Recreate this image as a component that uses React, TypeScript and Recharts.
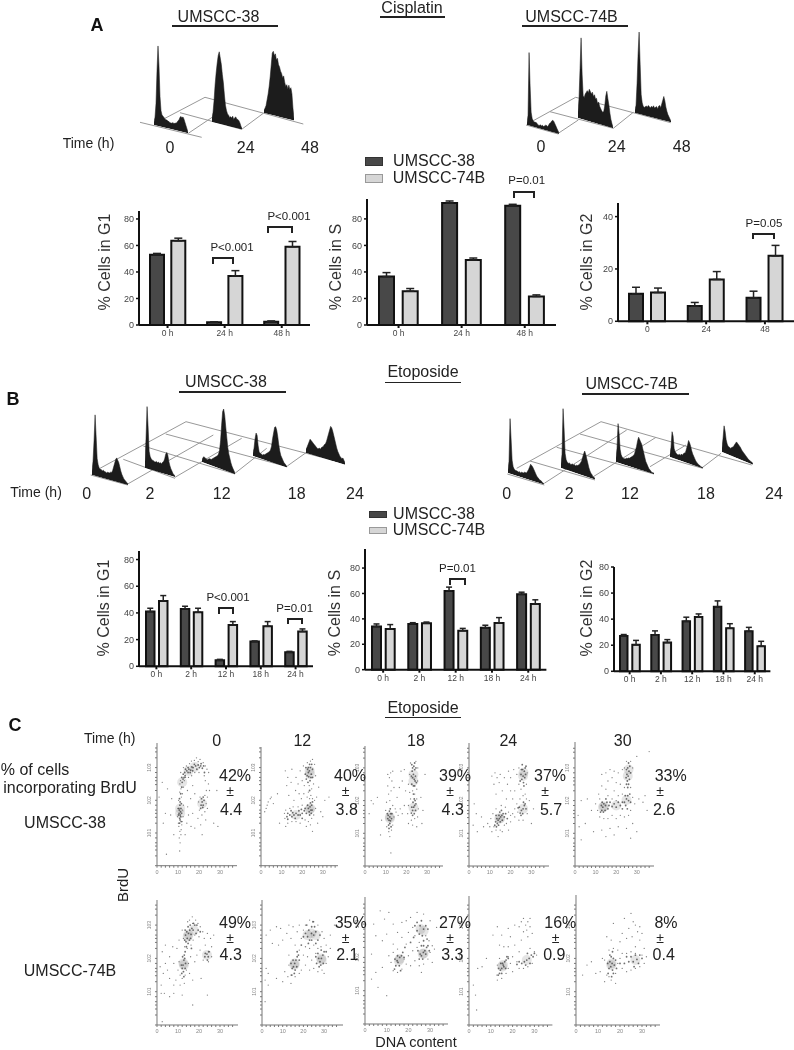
import React from 'react'
import {
  Area,
  AreaChart,
  Bar,
  BarChart,
  ErrorBar,
  Line,
  LineChart,
  Scatter,
  ScatterChart,
  XAxis,
  YAxis,
} from 'recharts'

const FONT = '"Liberation Sans", Arial, sans-serif'
const DARK = '#484848'
const LIGHT = '#d6d6d6'
const INK = '#222'

// ---- bar chart values ----
const hoursA = ['0 h', '24 h', '48 h']
const hoursG2A = ['0', '24', '48']
const hoursB = ['0 h', '2 h', '12 h', '18 h', '24 h']

const g1A38 = [53, 2, 2.5]
const g1A38Err = [1, 0.4, 0.6]
const g1A74 = [63.5, 37, 59]
const g1A74Err = [2, 4, 4]
const sA38 = [36.5, 92, 90]
const sA38Err = [3, 1.5, 1]
const sA74 = [25.5, 49, 21.5]
const sA74Err = [2, 1.5, 1.2]
const g2A38 = [10.5, 5.8, 9]
const g2A38Err = [2.5, 1.4, 2.5]
const g2A74 = [11, 16, 25]
const g2A74Err = [1.7, 3, 4]

const g1B38 = [41, 43, 4.5, 18.5, 10.5]
const g1B38Err = [2.5, 2, 0.7, 0.5, 0.7]
const g1B74 = [49, 40.5, 31, 30, 26]
const g1B74Err = [4, 3, 2.5, 3.5, 2]
const sB38 = [34, 36, 62, 33, 59.3]
const sB38Err = [2, 1, 3, 2, 1.7]
const sB74 = [32, 36.5, 30.7, 36.7, 51.7]
const sB74Err = [3.5, 1, 1.8, 4.3, 3.3]
const g2B38 = [27, 27.8, 38.3, 49.5, 30.7]
const g2B38Err = [1.2, 3.2, 3.2, 4.5, 3]
const g2B74 = [20.3, 22, 41.7, 33, 19.3]
const g2B74Err = [3.4, 2.3, 2.3, 3.5, 3.7]

// ---- DNA histograms (peak heights along each trace) ----
const histA38 = [
  [3, 8, 22, 55, 80, 60, 30, 16, 12, 11, 10, 9, 8, 8, 7, 7, 6, 6, 6, 7, 6, 7, 7, 8, 10, 11, 14, 15, 14, 15, 13, 10, 7, 4, 1],
  [4, 10, 22, 38, 50, 60, 68, 72, 66, 60, 50, 42, 30, 20, 15, 12, 11, 9, 10, 9, 11, 8, 10, 11, 9, 9, 8, 6, 3, 1],
  [3, 5, 8, 14, 20, 28, 38, 50, 62, 64, 60, 62, 56, 58, 52, 50, 46, 44, 40, 42, 36, 32, 34, 30, 34, 30, 32, 26, 12, 2],
]
const histA74 = [
  [2, 10, 73, 40, 14, 8, 6, 5, 5, 5, 4, 3, 3, 4, 3, 4, 3, 4, 5, 5, 4, 6, 8, 9, 11, 12, 11, 9, 7, 5, 3, 1],
  [6, 20, 50, 81, 45, 24, 22, 26, 28, 30, 28, 32, 30, 28, 30, 26, 28, 24, 25, 20, 22, 18, 16, 14, 13, 14, 20, 30, 35, 28, 22, 14, 8, 4, 1],
  [3, 8, 30, 60, 82, 50, 20, 12, 9, 8, 9, 10, 9, 11, 10, 9, 11, 10, 12, 10, 11, 12, 10, 13, 14, 12, 16, 20, 24, 20, 14, 10, 7, 5, 3, 1],
]
const histB38 = [
  [4, 14, 35, 61, 40, 18, 12, 9, 8, 8, 7, 8, 7, 7, 6, 7, 7, 7, 8, 8, 10, 14, 18, 22, 24, 22, 20, 16, 12, 9, 7, 5, 4, 3, 2, 1],
  [6, 30, 62, 42, 18, 13, 11, 10, 10, 9, 9, 10, 9, 10, 9, 10, 9, 11, 12, 15, 20, 22, 20, 14, 10, 7, 5, 3, 2, 1],
  [2, 5, 6, 5, 5, 4, 5, 6, 6, 6, 7, 8, 9, 10, 11, 12, 14, 18, 28, 44, 58, 61, 55, 44, 34, 24, 18, 14, 10, 7, 5, 3, 1],
  [3, 8, 18, 24, 22, 12, 6, 5, 5, 4, 5, 5, 6, 7, 8, 9, 10, 12, 16, 24, 30, 36, 37, 34, 28, 20, 14, 10, 8, 6, 4, 3, 2, 1],
  [4, 6, 9, 12, 15, 14, 13, 12, 11, 10, 9, 8, 8, 9, 8, 10, 11, 12, 14, 15, 18, 22, 26, 30, 34, 33, 30, 26, 22, 18, 14, 11, 9, 7, 6, 5, 6, 4, 2],
]
const histB74 = [
  [3, 12, 55, 35, 14, 8, 6, 5, 5, 5, 4, 5, 4, 5, 5, 5, 6, 6, 6, 8, 10, 13, 16, 15, 14, 12, 10, 8, 6, 5, 4, 3, 3, 2, 1, 1],
  [4, 14, 60, 40, 16, 10, 8, 7, 8, 7, 7, 8, 7, 8, 7, 8, 8, 9, 10, 12, 14, 18, 22, 25, 22, 18, 14, 10, 7, 5, 4, 2, 2, 1],
  [4, 14, 39, 30, 14, 9, 7, 6, 6, 6, 7, 7, 8, 8, 9, 10, 11, 12, 14, 18, 22, 28, 32, 30, 28, 26, 22, 18, 14, 10, 8, 6, 4, 3, 2, 1, 1, 1],
  [3, 10, 26, 22, 10, 7, 6, 5, 5, 6, 5, 7, 6, 8, 9, 10, 14, 18, 23, 21, 18, 14, 11, 9, 7, 5, 4, 3, 2, 2, 1, 1, 1],
  [4, 14, 27, 22, 14, 10, 8, 8, 7, 8, 9, 10, 12, 14, 16, 15, 14, 13, 12, 10, 9, 8, 7, 6, 5, 4, 3, 3, 2, 2, 1],
]

// left, base y at left, width, base slope for each trace
const histBoxes: [number[][], number[][]][] = [
  [histA38, [[154, 125, 34, 0.24], [211.7, 121.7, 30, 0.25], [264, 113.3, 30, 0.25]]],
  [histA74, [[526.7, 125, 32, 0.28], [578.3, 118.3, 35, 0.29], [635, 113.3, 36, 0.26]]],
  [histB38, [[91.7, 475, 36, 0.28], [145, 468.3, 30, 0.3], [202.3, 461.7, 33, 0.37], [253.3, 455.7, 34, 0.34], [306, 452.7, 39, 0.3]]],
  [histB74, [[508.3, 473.3, 36, 0.32], [561, 468.3, 34, 0.34], [616, 461.7, 38, 0.32], [670, 456.7, 33, 0.35], [721.7, 452.3, 31, 0.41]]],
]

// floor grid behind the histograms, in page pixels
const floorLines = [
  [205, 97.3, 303.3, 124], [180, 112.7, 241.7, 129.3], [140, 122.3, 201.7, 137.3],
  [165, 118.3, 205, 97.3], [188.3, 133.3, 226, 108], [241.7, 129.3, 263.3, 113.3],
  [575.7, 97.3, 670.7, 122.7], [550, 111.7, 613.3, 128.3], [526, 125, 558.3, 134],
  [533.3, 120.7, 575.7, 97.3], [558.3, 133.3, 578.3, 120], [613.3, 128.3, 633.3, 112.3],
  [186, 421.7, 344.3, 463.3], [165.7, 434, 287.3, 466.7], [143.3, 446, 235, 474],
  [123.3, 459.3, 175, 478.3], [90.7, 475, 127.7, 485], [100, 468.3, 186, 421.7],
  [127.7, 484, 213.3, 435], [175, 477.3, 241.7, 438.3], [235, 473.3, 266.7, 448.3],
  [287.3, 466, 306, 452.7],
  [601, 421.7, 751.7, 465], [580, 434, 702.7, 468.3], [556.7, 447.3, 654, 474],
  [530, 461, 595, 480], [507.3, 474, 544.3, 485], [516.7, 468.3, 601, 421.7],
  [544.3, 483.3, 626.7, 430], [593.3, 476.7, 656, 437.3], [650, 466.7, 686, 445],
  [702.7, 467.3, 721, 453.3],
]

// ---- BrdU / DNA dot plots: [DNA content, log10 BrdU] ----
type Pt = number[]
const core38h0: Pt[] = [[10.6,1.7],[11,1.55],[10.8,1.45],[11.2,1.65],[10.9,1.85],[11.3,1.5],[10.5,1.6],[11,1.4],[11.4,1.75],[11,1.95],[12,2.55],[11.8,2.7],[12.5,2.8],[13.2,2.85],[14.2,2.9],[15.2,2.95],[16,2.92],[17.2,3],[18.4,3.05],[19.6,3.08],[20.8,3.05],[21.6,2.98],[14.8,2.85],[16.6,3.02],[21.5,1.95],[22,1.85],[21,1.85],[22.4,2],[10.2,1.55],[11.7,1.6],[10.7,1.3],[11.5,1.35],[10.4,1.75],[11.6,1.9],[10.7,2.05],[11.3,2.2],[11.8,2.4],[12.4,2.65],[13.6,2.95],[12.9,2.7],[14.8,3],[15.8,2.85],[17,2.9],[17.8,3.1],[19,2.95],[20.2,3],[21,3.12],[22.2,3.05],[22.6,2.85],[13.4,2.75],[21.2,2.05],[20.8,1.75],[22,2.1],[21.8,1.78]]
const dust38h0: Pt[] = [[10.8,.45],[11,.7],[10.6,.85],[11.4,.95],[10.9,1.05],[11.5,1.1],[10.4,1.2],[11.8,1.25],[10.2,1.3],[12,1.35],[9.8,1.5],[12.4,1.5],[12.1,1.7],[9.9,1.75],[12.6,1.85],[10.3,2],[11.6,2.1],[12.1,2.2],[10.8,2.25],[11.4,2.35],[12.6,2.4],[10.9,2.5],[11.2,2.6],[13,2.6],[13.6,2.7],[11.3,2.85],[12.6,3],[14,3.05],[15.5,3.12],[16.4,3.2],[17.8,3.22],[18.8,3.3],[19.6,3.18],[20.5,3.25],[22,3.15],[23,3.05],[23.8,2.95],[24.6,2.85],[22.5,2.75],[20,2.85],[18,2.85],[16.5,2.75],[15,2.7],[23,2.6],[24.5,2.5],[25,2.3],[23.5,2.3],[22.8,2.15],[24,2.1],[20.5,2.1],[19.8,1.95],[23.4,1.9],[24,1.75],[20.2,1.7],[22.8,1.65],[21.4,1.55],[19.5,1.45],[23.2,1.4],[20.8,1.25],[17,1.6],[15,1.55],[14.2,1.3],[16.2,1.2],[18,1.15],[21.5,.95],[13.4,.95],[14.6,1.8],[16,2.05],[18,2.2],[17,2.45],[14.5,2.3],[1,2.1],[2.5,2.55],[4,1.6],[5,2.35],[3,1.3],[6.5,1.55],[7,2.05],[4.5,.35],[8,.95],[27,1.3],[28.5,2.3],[29,1.2]]
const halo38h0: Pt[] = [[11,1.6],[11,1.75],[15,2.9],[18,3.02],[21.5,1.9],[12,2.55]]
const core38h12: Pt[] = [[23.5,2.9],[24,3],[23,2.85],[24.4,2.8],[22.6,2.95],[24.2,2.7],[23.2,2.72],[25,2.95],[21.5,2.8],[22,2.65],[23.8,1.8],[24.2,1.7],[23.4,1.65],[24.6,1.85],[23,1.75],[24,1.92],[22,1.6],[20,1.6],[18,1.55],[16,1.55],[14,1.55],[12.6,1.5],[13,1.6],[15,1.5],[17,1.6],[19,1.55],[21,1.68],[24.6,3.1],[22.4,2.75],[23.6,3.1],[23,3],[25,2.7],[21.8,3],[23.8,2.6],[22.8,2.55],[24.8,1.7],[24.4,1.6],[22.6,1.85],[25,1.95],[23.6,1.55],[21.4,1.75],[20,1.45],[18.4,1.68],[16.6,1.45],[14.6,1.68],[13,1.42],[15.4,1.62],[19.6,1.72],[23.6,2.3]]
const dust38h12: Pt[] = [[24,3.2],[25,3.25],[22.5,3.15],[26,3.1],[20.6,3.05],[26.5,2.75],[20,2.6],[21,2.45],[25.5,2.5],[23.4,2.45],[24.6,2.35],[23,2.25],[24.2,2.15],[25,2.05],[23.6,2.05],[22.4,2.1],[26,2],[26.5,1.75],[25.6,1.55],[24.6,1.45],[23,1.35],[21.4,1.4],[24,1.25],[22,1.2],[25,1.05],[19,1.3],[17,1.35],[15,1.35],[13,1.3],[12,1.2],[11.6,1.45],[11.4,1.6],[12,1.7],[14,1.75],[15.6,1.8],[18,1.8],[20,1.85],[16,2],[13.5,2.15],[14.6,2.55],[13,2.7],[12.5,2.45],[11.8,2.9],[15,2.95],[17,2.7],[16.8,2.3],[18,2.5],[19,2.9],[18.5,2.2],[20.8,2.2],[19.6,2.05],[3,1.85],[3.5,1.95],[2.5,1.75],[4.5,2.05],[5,2.1],[6,1.9],[1.8,1.65],[8,2.2],[9,1.3],[27.5,1.3],[28,2.4],[27,2.1],[31,2],[33,2.1],[29,1.65],[30,1.5]]
const halo38h12: Pt[] = [[23.6,2.9],[23.8,2.8],[24,1.75],[23.6,1.72],[17,1.55]]
const core38h18: Pt[] = [[12,1.5],[11.6,1.4],[12.4,1.6],[11.2,1.55],[12.8,1.45],[12,1.3],[11.8,1.68],[12.3,1.38],[11,1.45],[23.5,1.8],[23,1.7],[24,1.85],[23.2,1.95],[24.4,1.7],[22.6,1.8],[23.8,1.6],[23.4,2.8],[24,2.95],[23,2.7],[24.2,2.6],[22.8,2.9],[23.6,3.05],[22.6,2.5],[24.4,2.75],[23.4,2.45],[12.6,1.2],[11.4,1.25],[13,1.6],[10.8,1.6],[12.2,1.75],[11.6,1.15],[24.6,1.9],[22.4,1.62],[24.2,2],[23,1.55],[22.4,2.75],[24.6,3],[24,2.45],[23,3],[24.8,2.55],[23.8,2.65],[22.6,3.1],[24,3.15],[23.4,2.2],[23.8,2.05]]
const dust38h18: Pt[] = [[24.6,3.2],[22,3.15],[25.5,3],[21.6,2.8],[25.4,2.6],[21,2.5],[25,2.35],[23,2.3],[21.6,2.25],[24,2.2],[22,2.05],[25,2.05],[21,1.85],[20.6,1.6],[25.8,1.75],[25.4,1.5],[24,1.45],[22.4,1.4],[23,1.25],[21,1.3],[25,1.2],[12,.9],[11.5,1.05],[12.8,1.1],[10.5,1.2],[13.4,1.25],[14,1.5],[15,1.65],[16,1.55],[14.6,1.75],[13.4,1.85],[10,1.7],[10.4,1.95],[12,2],[11.4,2.2],[12.6,2.3],[11,2.45],[13,2.6],[11.8,2.7],[12.4,2.85],[13.4,2.9],[11,2.8],[14,2.4],[15.5,2.1],[17,1.75],[18,1.6],[19,1.85],[16.6,2.4],[18,2.6],[19,2.95],[17.4,2.9],[19.6,2.3],[3,2],[4,1.9],[2,1.6],[6,2.1],[12.5,.4],[27,2.1],[28,1.7],[29,2.8],[27.5,1.3],[8,1.4],[7.5,.95]]
const halo38h18: Pt[] = [[12,1.5],[12,1.45],[23.4,1.78],[23.4,2.8],[23.4,2.6]]
const core38h24: Pt[] = [[14.6,1.45],[14,1.4],[15.2,1.5],[13.6,1.3],[15.8,1.55],[14.4,1.55],[13.4,1.45],[16.4,1.6],[15,1.35],[12.8,1.35],[17,1.5],[26,1.75],[25.2,1.7],[26.6,1.85],[24.6,1.62],[27,1.9],[25.8,1.6],[26,2.75],[26.6,2.9],[25.4,2.65],[26.8,2.7],[25.8,2.95],[25,2.8],[27,3],[26.2,2.55],[13,1.55],[16,1.4],[14.8,1.65],[12.4,1.25],[17.6,1.6],[18.4,1.45],[13.2,1.2],[15.6,1.7],[14.2,1.25],[27.4,1.75],[26.2,1.95],[24.2,1.8],[23.6,1.78],[25,1.55],[27.2,2.8],[25.2,2.95],[26.4,2.45],[24.6,2.6],[25.6,3.1],[27.4,3.05]]
const dust38h24: Pt[] = [[24,3],[23,2.8],[28,2.85],[27.6,2.5],[24,2.5],[25,2.35],[27,2.2],[26,2.15],[27.6,2.05],[24.5,2.05],[23,1.9],[22,1.75],[23.5,1.65],[21,1.6],[20,1.55],[19,1.65],[22,1.5],[24,1.4],[26,1.4],[28,1.6],[20,1.35],[18,1.3],[17,1.25],[15,1.1],[13,1.1],[12,1.2],[11,1.05],[10,1.2],[16,1.05],[19,1.1],[14,.9],[17.5,1.8],[15.5,1.85],[13,1.75],[11.5,1.6],[10.5,1.45],[9,1.3],[7,1.2],[4,1.05],[2,1.25],[3.5,1.6],[2.5,1.9],[6,1.5],[18,2.05],[16,2.3],[13,2.2],[12,2.5],[13.5,2.7],[12.5,2.85],[15,2.8],[14.5,2.55],[17,2.7],[18.5,2.5],[20,2.3],[21,2.05],[22,2.3],[20,2.7],[19,2.9],[21.5,2.95],[11,2.75],[29,2],[31,1.75],[30,1.3]]
const halo38h24: Pt[] = [[14.6,1.45],[15,1.45],[26,1.75],[26,2.75],[26.2,2.85]]
const core38h30: Pt[] = [[13.5,1.8],[14,1.9],[13,1.7],[14.8,1.85],[12.8,1.85],[15.5,1.95],[13.8,1.65],[16.5,1.85],[18,1.82],[20,1.8],[22,1.85],[24,1.95],[25,2.05],[26,2],[24.6,1.85],[23,1.95],[25.6,2.15],[25.6,2.4],[25.4,2.6],[25.8,2.75],[25.2,2.8],[26.2,2.9],[26.6,3.05],[25.6,3],[26.4,2.65],[12.4,1.65],[14.6,1.7],[15,2.05],[17,1.95],[19,1.9],[21,1.95],[23,1.75],[25.4,1.75],[26.6,2.2],[27,1.95],[24.4,2.15],[25,2.5],[26,2.5],[25,2.95],[26,3.15],[27,2.85],[24.8,2.7],[13.2,1.95],[16,1.75]]
const dust38h30: Pt[] = [[27,3.2],[25,3.2],[28,3],[24,3],[23,2.95],[21,2.85],[19,2.9],[17,2.95],[15,2.85],[13,2.8],[16,2.6],[18,2.7],[20,2.55],[22,2.5],[24,2.4],[27,2.4],[19,2.3],[15,2.35],[13,2.45],[11.5,2.2],[12,2.05],[16,2.15],[21,2.15],[23,2.2],[18,2.05],[20,2],[28,2.1],[29,1.9],[31,2.05],[33,1.95],[35,1.7],[34,2.15],[27,1.7],[26,1.55],[24,1.5],[22,1.55],[20,1.45],[18,1.55],[16,1.45],[14,1.45],[12,1.5],[11,1.7],[10,1.9],[8,1.7],[6,2.05],[3,2],[1.5,1.55],[2,1.2],[5,1.3],[9,1.05],[13,1.1],[17,1.15],[21,1.2],[25,1.15],[28,1.3],[30,1.05],[19,.95],[27,.85],[15,.9],[3,.8],[36,3.5],[30,3.35]]
const halo38h30: Pt[] = [[13.6,1.8],[14,1.82],[25,2.02],[25.6,2.75],[26,2.95],[20,1.85]]
const core74h0: Pt[] = [[15,2.75],[14.4,2.6],[15.6,2.85],[13.8,2.5],[14.2,2.8],[16.2,2.72],[15.4,2.55],[13.6,2.7],[16.6,2.9],[14.8,2.95],[12.4,1.8],[12.8,1.95],[12,1.7],[13,2.1],[12.6,1.6],[13.2,2],[11.6,1.8],[23.8,2.13],[24.4,2.05],[23,2.15],[18,3],[19.6,2.85],[15.8,3],[13.2,2.55],[14,2.35],[16,2.6],[14.8,2.45],[17.2,2.85],[13.4,2.85],[17.4,3.05],[13.4,2.2],[12.2,2.05],[13.6,1.85],[12.8,1.45],[11.8,1.55],[13.4,1.7],[19,3],[18.6,2.75],[20.6,2.8],[22.8,2.05],[24.6,2.2],[24,1.95],[16.4,2.3]]
const dust74h0: Pt[] = [[17,3.05],[18.4,3.15],[15.5,3.15],[16.8,3.25],[14.6,3.1],[19.5,3.05],[20.6,2.95],[21.8,2.8],[20,2.65],[18,2.7],[17.2,2.55],[16.2,2.4],[14.4,2.3],[13.2,2.35],[12.6,2.6],[12,2.85],[22.5,2.6],[24,2.75],[25.5,2.6],[27,2.7],[26,2.35],[23,2.4],[25,2.2],[26,2.05],[22,1.95],[24.5,1.9],[20.5,2.25],[19,2.1],[18,1.9],[16,2.05],[15,1.85],[14,1.65],[15.5,1.55],[13.4,1.5],[12,1.4],[11,1.5],[10.5,1.9],[10,1.65],[9,1.35],[8,1.2],[11,1.2],[13,1.25],[6,1.4],[5,1.65],[4,1.85],[3,1.55],[2,1.2],[1.5,1.75],[2.5,2.2],[4,2.4],[6,2.05],[7.5,2.35],[8,1.85],[9.5,2.3],[10.5,2.55],[2,.95],[3.5,.95],[6,.85],[8,.95],[12,.9],[17,1.35],[21,1.4],[24,.9],[17,.6],[2.5,.1]]
const halo74h0: Pt[] = [[15,2.72],[14.6,2.65],[12.6,1.85],[12.8,1.8],[23.8,2.1],[17.5,2.85]]
const core74h12: Pt[] = [[15.8,1.85],[15.2,1.75],[16.4,1.95],[15,1.95],[16,1.65],[17,2.05],[14.6,1.7],[17.6,2.1],[28.7,2],[28,1.9],[29.4,2.1],[27.4,2],[30,2.2],[28.4,1.8],[26.4,1.85],[23.9,2.75],[22.6,2.85],[25,2.7],[24,2.95],[22,2.65],[26,2.8],[23,2.55],[27,2.55],[14,1.85],[16.8,1.75],[15.6,1.55],[17,2.2],[18,1.95],[14.4,1.5],[29.6,1.85],[31,2.2],[27,2.15],[28.6,2.25],[27.6,1.75],[26,2.05],[21,2.75],[24,2.55],[25.4,2.95],[20,2.65],[28,2.7],[22.4,2.45],[26,2.45],[21.6,3],[24.6,3.1],[19,2.4]]
const dust74h12: Pt[] = [[25,3.1],[23,3.15],[21,3],[27,3],[29,2.8],[30,2.6],[31,2.4],[28.5,2.35],[27,2.3],[25,2.4],[23,2.3],[21,2.35],[19,2.6],[20,2.85],[17,2.8],[18,3],[15,2.95],[13,3],[14,2.6],[12,2.75],[9,2.9],[7,2.95],[4,2.85],[2,2.7],[5,2.45],[8,2.4],[10,2.55],[16,2.4],[18,2.25],[20,2.1],[22,2.05],[24,1.95],[26,2.15],[25,1.7],[23,1.65],[21,1.8],[19,1.65],[27,1.6],[29,1.65],[31,1.85],[32,2.05],[33,2.3],[30,1.55],[13,1.8],[14,1.5],[16,1.45],[18,1.55],[13,2.1],[12.5,1.45],[11,1.6],[10,1.3],[3,1.55],[2,1.7],[1.5,1.35],[3,1.2],[7,1.4],[1.5,.7],[14,1.25],[33,2.7],[35,3]]
const halo74h12: Pt[] = [[15.8,1.85],[15.6,1.8],[28.6,2],[28.8,1.95],[23.8,2.75],[22,2.7],[26,2.7]]
const core74h18: Pt[] = [[16,2],[15.2,1.85],[16.8,2.05],[14.8,1.9],[17.4,2.15],[15.8,1.75],[14.2,1.75],[26.9,2.15],[26,2.05],[27.6,2.2],[25.4,2.1],[28.4,2.3],[26.6,1.95],[28,2.1],[25.4,2.95],[27,2.85],[24,3.05],[26.4,2.65],[28,2.95],[27,2.5],[13.6,1.65],[15,2.05],[16.4,1.6],[18,2],[18.4,2.3],[13.8,1.95],[25,1.95],[29,2.35],[27,2.35],[24.4,2.2],[29.6,2.2],[23,2.95],[26,3.1],[29,2.85],[25,2.7],[22.4,2.6],[26,2.35],[28.6,2.55],[21,2.45],[24,2.8]]
const dust74h18: Pt[] = [[27,3.3],[24,3.35],[21,3.2],[19,3.1],[17,3.05],[22,2.9],[20,2.75],[23,2.65],[25,2.45],[28,2.65],[29.5,2.5],[31,2.35],[30,2.15],[32,2.25],[29,1.95],[27,1.8],[25,1.75],[23,1.9],[21,1.75],[19,1.8],[18,1.95],[20,2.05],[22,2.2],[24,2.3],[19,2.4],[17,2.6],[15,2.75],[13,3],[11,3.35],[9,3.15],[7,3.4],[4,3],[5,2.65],[8,2.5],[10,2.7],[13,2.4],[15,2.25],[13,2.15],[12,1.85],[11,2.05],[13,1.6],[15,1.55],[17,1.65],[8,1.7],[5,1.55],[3,1.35],[6,1.1],[10,.85],[3,2.1],[30,3.1],[33,2.9],[31,1.85],[26,1.55]]
const halo74h18: Pt[] = [[16,1.95],[15.6,1.9],[27,2.12],[26.6,2.1],[25.6,2.85],[27,2.8]]
const core74h24: Pt[] = [[15.7,1.8],[15,1.7],[16.4,1.9],[14.4,1.65],[17,1.95],[15.4,1.85],[14,1.55],[16,1.75],[26.5,1.95],[25.4,1.9],[27.6,2],[24.2,1.85],[28.6,2.1],[13.6,1.7],[17.4,2.05],[16.8,1.7],[15,1.55],[18,2],[14.6,1.85],[13.4,1.5],[23,1.9],[26,1.8],[28,1.85],[29.4,2.05],[22,1.82],[30,2.15],[26.8,2.15]]
const dust74h24: Pt[] = [[26,3],[27,3.1],[25,3.2],[28,2.95],[24,3.1],[26.5,2.85],[23,2.95],[28,3.2],[25,2.8],[29,2.75],[27,2.65],[24,2.55],[21,3],[18,2.9],[19,2.65],[15,2.7],[16,2.35],[14,2.4],[18,2.35],[21,2.4],[23,2.2],[20,2.05],[22,1.9],[23,1.7],[25,1.7],[27,1.75],[29,1.85],[30,2.2],[31,2.1],[28,2.3],[19,1.85],[18,1.7],[18,2.05],[14,2],[13,1.8],[12.8,1.5],[13,1.35],[15,1.4],[17,1.55],[20,1.6],[6,1.75],[4,1.7],[2,1.2],[3,.9],[3.5,.45],[8,2],[11,2.7],[13,2.95]]
const halo74h24: Pt[] = [[15.6,1.8],[15.2,1.75],[26.5,1.95]]
const core74h30: Pt[] = [[16.4,1.85],[15.8,1.75],[17,2],[15.4,1.9],[17.4,1.8],[16,2.05],[16.6,1.65],[15,1.7],[27.7,1.97],[26,1.9],[24,1.9],[29,2.1],[22,1.85],[14.6,1.55],[17,1.55],[15.4,2.1],[16.6,2.2],[14.4,1.85],[18,1.95],[18.4,1.7],[16.2,1.45],[20,1.85],[25,2.05],[27,2.1],[28.4,1.85],[30,2],[23,2.05],[26.4,1.75]]
const dust74h30: Pt[] = [[27,3],[29,2.95],[26,3.1],[28,2.8],[24,2.9],[30,2.75],[25.5,2.65],[29,2.55],[23,2.6],[21,2.75],[20,2.5],[27,2.35],[31,2.3],[16,2.55],[14,2.65],[17,2.3],[15,2.25],[19,2.25],[21,2.15],[23,2.15],[25,2.2],[27,2.15],[30,2.1],[32,2.05],[31,1.85],[29,1.75],[27,1.7],[25,1.65],[23,1.6],[21,1.7],[19,1.85],[20,2],[18,1.55],[15,1.45],[14,1.5],[13,1.3],[16,1.35],[18,1.25],[11,1.6],[9,1.55],[7,1.9],[5,1.8],[3,1.5],[12,2],[13,1.95],[17,3.05],[22,3.2],[25,3.35]]
const halo74h30: Pt[] = [[16.2,1.85],[16,1.8],[27,1.95]]

const dnaTicks = [0, 2, 4, 6, 8, 10, 12, 14, 16, 18, 20, 22, 24, 26, 28, 30, 32, 34, 36]
const logTicks = [0, .3, .48, .6, .7, .85, 1, 1.3, 1.48, 1.6, 1.7, 1.85, 2, 2.3, 2.48, 2.6, 2.7, 2.85, 3, 3.3, 3.48, 3.6]

function rows(cats: string[], a: number[], aErr: number[], b: number[], bErr: number[]) {
  return cats.map((name, i) => ({
    name,
    a: a[i],
    b: b[i],
    aErr: [0, aErr[i]],
    bErr: [0, bErr[i]],
  }))
}

function Txt({ x, y, size = 16, bold, color = INK, rotate, children }: any) {
  return (
    <div
      style={{
        position: 'absolute',
        left: x,
        top: y,
        fontSize: size,
        fontWeight: bold ? 700 : 400,
        color,
        lineHeight: 1,
        whiteSpace: 'nowrap',
        transform: `translate(-50%, -50%)${rotate ? ` rotate(${rotate}deg)` : ''}`,
      }}
    >
      {children}
    </div>
  )
}

function Rule({ x1, x2, y, h = 2 }: any) {
  return <div style={{ position: 'absolute', left: x1, top: y - h / 2, width: x2 - x1, height: h, background: '#222' }} />
}

function Bracket({ x1, x2, top, bottom }: any) {
  return (
    <div
      style={{
        position: 'absolute',
        left: x1,
        top,
        width: x2 - x1 - 4,
        height: bottom - top - 2,
        borderTop: '2px solid #222',
        borderLeft: '2px solid #222',
        borderRight: '2px solid #222',
      }}
    />
  )
}

function BarPanel({ data, left, right, top, base, domainTop, ticks, barSize, barGap, cap = 4 }: any) {
  const axisW = 28
  const pad = 7 // room above the axis so the top tick label is not clipped
  return (
    <div style={{ position: 'absolute', left: left - axisW, top: top - pad }}>
      <BarChart
        width={right - left + axisW}
        height={base - top + 18 + pad}
        data={data}
        barSize={barSize}
        barGap={barGap}
        margin={{ top: pad, right: 0, bottom: 0, left: 0 }}
      >
        <XAxis
          dataKey="name"
          height={18}
          interval={0}
          tickSize={3}
          tick={{ fontSize: 8.5, fill: '#444' }}
          tickLine={{ stroke: '#111', strokeWidth: 2 }}
          axisLine={{ stroke: '#111', strokeWidth: 2 }}
        />
        <YAxis
          width={axisW}
          type="number"
          domain={[0, domainTop]}
          ticks={ticks}
          interval={0}
          tickSize={3}
          tick={{ fontSize: 9, fill: '#444' }}
          tickLine={{ stroke: '#111', strokeWidth: 1.5 }}
          axisLine={{ stroke: '#111', strokeWidth: 2 }}
        />
        <Bar dataKey="a" fill={DARK} stroke="#111" strokeWidth={2} isAnimationActive={false}>
          <ErrorBar dataKey="aErr" direction="y" width={cap} stroke="#222" strokeWidth={1.5} isAnimationActive={false} />
        </Bar>
        <Bar dataKey="b" fill={LIGHT} stroke="#111" strokeWidth={2} isAnimationActive={false}>
          <ErrorBar dataKey="bErr" direction="y" width={cap} stroke="#222" strokeWidth={1.5} isAnimationActive={false} />
        </Bar>
      </BarChart>
    </div>
  )
}

function Hist({ heights, box }: { heights: number[]; box: number[] }) {
  const [left, baseY, width, slope] = box
  const h = Math.max(...heights) + 2
  const data = heights.map((v, i) => ({ i, v }))
  return (
    <div
      style={{
        position: 'absolute',
        left,
        top: baseY - h,
        width,
        height: h,
        transform: `skewY(${(Math.atan(slope) * 180) / Math.PI}deg)`,
        transformOrigin: '0 100%',
      }}
    >
      <AreaChart width={width} height={h} data={data} margin={{ top: 0, right: 0, bottom: 0, left: 0 }}>
        <XAxis hide type="number" dataKey="i" domain={[0, heights.length - 1]} />
        <YAxis hide type="number" domain={[0, h]} />
        <Area type="linear" dataKey="v" fill="#1c1c1c" fillOpacity={1} stroke="#1c1c1c" strokeWidth={0.5} dot={false} activeDot={false} isAnimationActive={false} />
      </AreaChart>
    </div>
  )
}

function Floor() {
  return (
    <div style={{ position: 'absolute', left: 0, top: 0 }}>
      <LineChart width={794} height={1050} margin={{ top: 0, right: 0, bottom: 0, left: 0 }}>
        <XAxis hide type="number" dataKey="x" domain={[0, 794]} />
        <YAxis hide type="number" dataKey="y" domain={[0, 1050]} reversed />
        {floorLines.map((s, i) => (
          <Line
            key={i}
            data={[{ x: s[0], y: s[1] }, { x: s[2], y: s[3] }]}
            dataKey="y"
            stroke="#999"
            strokeWidth={1}
            dot={false}
            activeDot={false}
            isAnimationActive={false}
          />
        ))}
      </LineChart>
    </div>
  )
}

const toXY = (pts: Pt[]) => pts.map(([x, y]) => ({ x, y }))

function LogTick({ x, y, payload }: any) {
  if (!Number.isInteger(payload.value) || payload.value === 0) return null
  return (
    <text x={x - 2} y={y} fontSize={5} fill="#888" textAnchor="middle" transform={`rotate(-90 ${x - 2} ${y})`}>
      {`10${payload.value}`}
    </text>
  )
}

function DotPlot({ core, dust, halo, left, right, top, base, tenPx, decadePx = 32.7 }: any) {
  const axisW = 12
  const xMax = (right - left) / (tenPx / 10)
  const yMax = (base - top) / decadePx
  const dot = (r: number, fill: string, op: number) => (p: any) =>
    <circle cx={p.cx} cy={p.cy} r={r} fill={fill} fillOpacity={op} />
  return (
    <div style={{ position: 'absolute', left: left - axisW, top }}>
      <ScatterChart width={right - left + axisW} height={base - top + 14} margin={{ top: 0, right: 0, bottom: 0, left: 0 }}>
        <XAxis
          type="number"
          dataKey="x"
          domain={[0, xMax]}
          ticks={dnaTicks}
          interval={0}
          height={14}
          tickSize={2}
          tickFormatter={(v: number) => (v % 10 === 0 ? String(v) : '')}
          tick={{ fontSize: 5.5, fill: '#888' }}
          tickLine={{ stroke: '#777' }}
          axisLine={{ stroke: '#777' }}
        />
        <YAxis
          type="number"
          dataKey="y"
          width={axisW}
          domain={[0, yMax]}
          ticks={logTicks}
          interval={0}
          tickSize={2}
          tick={LogTick}
          tickLine={{ stroke: '#777' }}
          axisLine={{ stroke: '#777' }}
        />
        <Scatter data={toXY(halo)} shape={dot(5, '#444', 0.14)} isAnimationActive={false} />
        <Scatter data={toXY(dust)} shape={dot(0.65, '#555', 0.75)} isAnimationActive={false} />
        <Scatter data={toXY(core)} shape={dot(0.9, '#333', 0.7)} isAnimationActive={false} />
      </ScatterChart>
    </div>
  )
}

const plots = [
  { core: core38h0, dust: dust38h0, halo: halo38h0, left: 156.7, right: 237, top: 743, base: 865.7, tenPx: 21 },
  { core: core38h12, dust: dust38h12, halo: halo38h12, left: 261, right: 338, top: 747, base: 865.7, tenPx: 20.6 },
  { core: core38h18, dust: dust38h18, halo: halo38h18, left: 365, right: 443.3, top: 746, base: 866, tenPx: 20.7 },
  { core: core38h24, dust: dust38h24, halo: halo38h24, left: 469.3, right: 549.3, top: 742.7, base: 865.7, tenPx: 20.8 },
  { core: core38h30, dust: dust38h30, halo: halo38h30, left: 575, right: 654, top: 742, base: 866, tenPx: 20.6 },
  { core: core74h0, dust: dust74h0, halo: halo74h0, left: 156.7, right: 238.3, top: 900, base: 1025, tenPx: 21, decadePx: 33.3 },
  { core: core74h12, dust: dust74h12, halo: halo74h12, left: 262.3, right: 343.3, top: 900, base: 1025, tenPx: 20.7, decadePx: 33.3 },
  { core: core74h18, dust: dust74h18, halo: halo74h18, left: 365, right: 448.3, top: 897, base: 1024, tenPx: 21.7, decadePx: 33.3 },
  { core: core74h24, dust: dust74h24, halo: halo74h24, left: 469.3, right: 552.7, top: 896, base: 1025, tenPx: 21.8, decadePx: 33.3 },
  { core: core74h30, dust: dust74h30, halo: halo74h30, left: 575.7, right: 660, top: 895, base: 1025, tenPx: 22, decadePx: 33.3 },
]

// percent, plus-minus, sd labels next to each dot plot: text, x of each line
const brduLabels: [string, string, number, number, number, number][] = [
  ['42%', '4.4', 235, 230, 231, 0],
  ['40%', '3.8', 350, 345.7, 346.7, 0],
  ['39%', '4.3', 455, 450, 452.7, 0],
  ['37%', '5.7', 550, 545, 551, 0],
  ['33%', '2.6', 670.7, 660, 664, 0],
  ['49%', '4.3', 235, 230, 230.7, 1],
  ['35%', '2.1', 350.7, 345.7, 347.3, 1],
  ['27%', '3.3', 455, 450, 452.3, 1],
  ['16%', '0.9', 560.3, 555.7, 554.3, 1],
  ['8%', '0.4', 666, 660, 663.7, 1],
]
const brduRowY = [[776, 790.7, 810], [922.7, 937.7, 955]]

function LegendBlock({ x, y1, y2, h }: any) {
  const swatch = (y: number, fill: string, border: string) => (
    <div style={{ position: 'absolute', left: x, top: y - h / 2, width: 18, height: h, background: fill, border: `1px solid ${border}`, boxSizing: 'border-box' }} />
  )
  return (
    <>
      {swatch(y1, DARK, '#333')}
      {swatch(y2, LIGHT, '#999')}
      <Txt x={434} y={y1}>UMSCC-38</Txt>
      <Txt x={439} y={y2}>UMSCC-74B</Txt>
    </>
  )
}

export default function App() {
  return (
    <div
      style={{
        position: 'absolute',
        left: 0,
        top: 0,
        width: 794,
        height: 1050,
        overflow: 'hidden',
        background: '#fff',
        fontFamily: FONT,
        filter: 'blur(0.3px)',
      }}
    >
      <Floor />
      {histBoxes.map(([traces, boxes], g) =>
        traces.map((t, i) => <Hist key={`${g}-${i}`} heights={t} box={boxes[i]} />),
      )}

      {/* panel A */}
      <Txt x={97} y={25} size={18} bold color="#111">A</Txt>
      <Txt x={218.5} y={17}>UMSCC-38</Txt>
      <Rule x1={171.7} x2={278.3} y={26} />
      <Txt x={412} y={8}>Cisplatin</Txt>
      <Rule x1={380} x2={445} y={17} h={1.5} />
      <Txt x={571.5} y={17}>UMSCC-74B</Txt>
      <Rule x1={521.7} x2={628.3} y={26} />
      <Txt x={88.5} y={143} size={14}>Time (h)</Txt>
      <Txt x={170} y={147.5}>0</Txt>
      <Txt x={245.7} y={147.5}>24</Txt>
      <Txt x={310} y={147.5}>48</Txt>
      <Txt x={541} y={147}>0</Txt>
      <Txt x={616.7} y={147}>24</Txt>
      <Txt x={681.7} y={147}>48</Txt>
      <LegendBlock x={365} y1={161} y2={178} h={9} />

      <BarPanel data={rows(hoursA, g1A38, g1A38Err, g1A74, g1A74Err)} left={138.7} right={310} top={211} base={325} domainTop={86} ticks={[0, 20, 40, 60, 80]} barSize={14} barGap={7.3} />
      <BarPanel data={rows(hoursA, sA38, sA38Err, sA74, sA74Err)} left={366.7} right={556} top={199} base={325} domainTop={95} ticks={[0, 20, 40, 60, 80]} barSize={15} barGap={8.7} />
      <BarPanel data={rows(hoursG2A, g2A38, g2A38Err, g2A74, g2A74Err)} left={617.7} right={794} top={202.7} base={321} domainTop={45.2} ticks={[0, 20, 40]} barSize={14} barGap={8} />
      <Txt x={105} y={262} color="#333" rotate={-90}>% Cells in G1</Txt>
      <Txt x={335.7} y={267} color="#333" rotate={-90}>% Cells in S</Txt>
      <Txt x={587.3} y={262} color="#333" rotate={-90}>% Cells in G2</Txt>
      <Txt x={232} y={247.7} size={11.5}>{'P<0.001'}</Txt>
      <Bracket x1={211.7} x2={234.3} top={257} bottom={264} />
      <Txt x={289} y={217.3} size={11.5}>{'P<0.001'}</Txt>
      <Bracket x1={267.3} x2={293.3} top={226} bottom={232.5} />
      <Txt x={526.7} y={180.7} size={11.5}>P=0.01</Txt>
      <Bracket x1={512.7} x2={535} top={190.5} bottom={197.7} />
      <Txt x={764} y={224.3} size={11.5}>P=0.05</Txt>
      <Bracket x1={752.3} x2={775} top={232.5} bottom={239.3} />

      {/* panel B */}
      <Txt x={13} y={399} size={18} bold color="#111">B</Txt>
      <Txt x={226} y={382.3}>UMSCC-38</Txt>
      <Rule x1={179} x2={286} y={391.7} />
      <Txt x={423} y={372.3}>Etoposide</Txt>
      <Rule x1={385} x2={461} y={382.3} h={1.5} />
      <Txt x={631.7} y={384}>UMSCC-74B</Txt>
      <Rule x1={582.3} x2={689.3} y={393.7} />
      <Txt x={36} y={491.7} size={14}>Time (h)</Txt>
      <Txt x={86.7} y={494.3}>0</Txt>
      <Txt x={150} y={494.3}>2</Txt>
      <Txt x={221.7} y={494.3}>12</Txt>
      <Txt x={296.7} y={494.3}>18</Txt>
      <Txt x={355} y={494.3}>24</Txt>
      <Txt x={506.7} y={494.3}>0</Txt>
      <Txt x={569.3} y={494.3}>2</Txt>
      <Txt x={630} y={494.3}>12</Txt>
      <Txt x={706} y={494.3}>18</Txt>
      <Txt x={774} y={494.3}>24</Txt>
      <LegendBlock x={369} y1={514} y2={530} h={7} />

      <BarPanel data={rows(hoursB, g1B38, g1B38Err, g1B74, g1B74Err)} left={139} right={313} top={550.7} base={666} domainTop={86.4} ticks={[0, 20, 40, 60, 80]} barSize={8.5} barGap={4.5} cap={3} />
      <BarPanel data={rows(hoursB, sB38, sB38Err, sB74, sB74Err)} left={365.3} right={546.7} top={549.3} base={670} domainTop={95} ticks={[0, 20, 40, 60, 80]} barSize={9} barGap={4.7} cap={3} />
      <BarPanel data={rows(hoursB, g2B38, g2B38Err, g2B74, g2B74Err)} left={614.3} right={770.7} top={567} base={671.3} domainTop={80} ticks={[0, 20, 40, 60, 80]} barSize={7.5} barGap={4.8} cap={3} />
      <Txt x={104.3} y={608.3} color="#333" rotate={-90}>% Cells in G1</Txt>
      <Txt x={335} y={613} color="#333" rotate={-90}>% Cells in S</Txt>
      <Txt x={586.7} y={607.5} color="#333" rotate={-90}>% Cells in G2</Txt>
      <Txt x={228} y={598.3} size={11.5}>{'P<0.001'}</Txt>
      <Bracket x1={218.3} x2={234.3} top={607} bottom={614} />
      <Txt x={294.7} y={609} size={11.5}>P=0.01</Txt>
      <Bracket x1={287.3} x2={302.7} top={617.5} bottom={624.3} />
      <Txt x={457.5} y={569.3} size={11.5}>P=0.01</Txt>
      <Bracket x1={449.3} x2={466.5} top={577.5} bottom={585.3} />

      {/* panel C */}
      <Txt x={15} y={725} size={18} bold color="#111">C</Txt>
      <Txt x={423} y={708}>Etoposide</Txt>
      <Rule x1={385} x2={461} y={717.3} h={1.5} />
      <Txt x={109.7} y={738.3} size={14}>Time (h)</Txt>
      <Txt x={216.7} y={741}>0</Txt>
      <Txt x={302.3} y={741}>12</Txt>
      <Txt x={416} y={741}>18</Txt>
      <Txt x={508.3} y={741}>24</Txt>
      <Txt x={622.7} y={741}>30</Txt>
      <Txt x={35} y={770}>% of cells</Txt>
      <Txt x={70} y={788.3}>incorporating BrdU</Txt>
      <Txt x={65} y={823.3}>UMSCC-38</Txt>
      <Txt x={70} y={971}>UMSCC-74B</Txt>
      <Txt x={121.7} y={885} size={15} rotate={-90}>BrdU</Txt>
      <Txt x={416} y={1042} size={14.5}>DNA content</Txt>

      {plots.map((p, i) => <DotPlot key={i} {...p} />)}

      {brduLabels.map(([pct, sd, x1, x2, x3, row]) => (
        <React.Fragment key={`${pct}-${row}`}>
          <Txt x={x1} y={brduRowY[row][0]}>{pct}</Txt>
          <Txt x={x2} y={brduRowY[row][1]} size={14}>±</Txt>
          <Txt x={x3} y={brduRowY[row][2]}>{sd}</Txt>
        </React.Fragment>
      ))}
    </div>
  )
}
